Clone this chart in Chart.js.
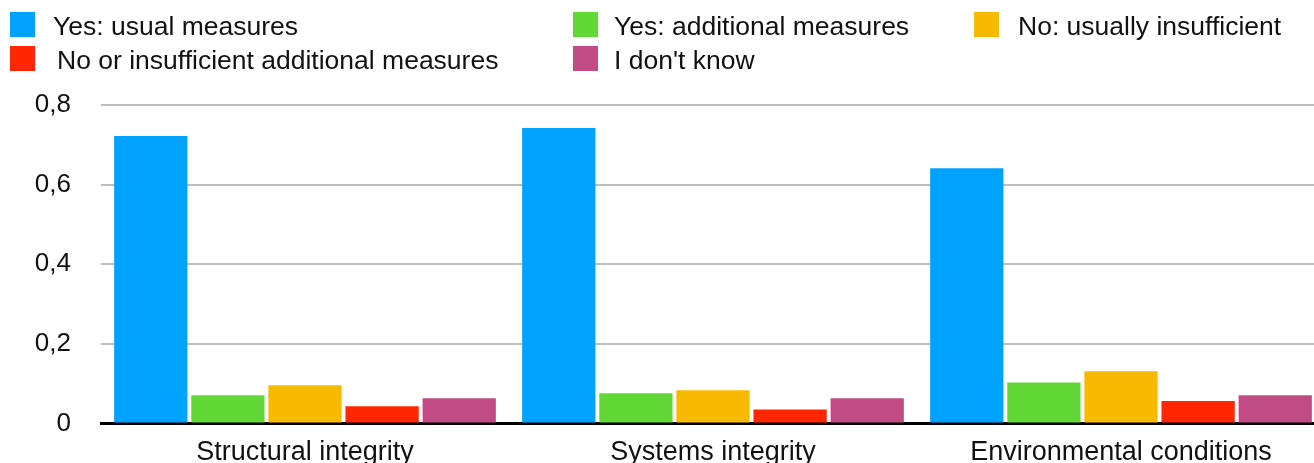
<!DOCTYPE html>
<html>
<head>
<meta charset="utf-8">
<script src="https://cdn.jsdelivr.net/npm/chart.js@4/dist/chart.umd.min.js"></script>
<style>
  html, body { margin: 0; padding: 0; background: #fff; overflow: hidden; }
  #wrap { position: relative; width: 1314px; height: 463px; overflow: hidden; }
  #chartBox { position: absolute; left: 0; top: 0; width: 1330px; height: 469px; }
  .leg { position: absolute; font-family: "Liberation Sans", Arial, sans-serif; font-size: 26.5px; color: #111; white-space: nowrap; line-height: 28px; }
  .leg span.box { position: absolute; width: 25px; height: 25px; }
  .leg span.txt { position: absolute; }
</style>
</head>
<body>
<div id="wrap">
  <div id="chartBox"><canvas id="myChart"></canvas></div>
  <div id="legend"></div>
</div>
<script>
const categories = ['Structural integrity', 'Systems integrity', 'Environmental conditions'];
const seriesNames = ['Yes: usual measures', 'Yes: additional measures', 'No: usually insufficient', 'No or insufficient additional measures', "I don't know"];
const usualMeasures = [0.722, 0.742, 0.641];
const additionalMeasures = [0.071, 0.076, 0.103];
const usuallyInsufficient = [0.096, 0.083, 0.131];
const noAdditional = [0.043, 0.035, 0.056];
const dontKnow = [0.063, 0.063, 0.071];
const yTicks = [0, 0.2, 0.4, 0.6, 0.8];

const colors = ['#00a2ff', '#61d836', '#f8ba00', '#ff2600', '#c24a85'];
const values = [usualMeasures, additionalMeasures, usuallyInsufficient, noAdditional, dontKnow];

// legend laid out as a grid like the original
const legendSpots = [[10, 12], [573, 12], [974, 12], [10, 46], [573, 46]];
const textLeft = [43, 41, 44, 47, 41];
const legend = document.getElementById('legend');
seriesNames.forEach(function(name, i){
  let item = document.createElement('div');
  item.className = 'leg';
  item.style.left = legendSpots[i][0] + 'px';
  item.style.top = legendSpots[i][1] + 'px';
  item.innerHTML = '<span class="box" style="left:0;top:0;background:' + colors[i] + '"></span>' +
    '<span class="txt" style="left:' + textLeft[i] + 'px;top:0px">' + name + '</span>';
  legend.appendChild(item);
});

const ctx = document.getElementById('myChart');

new Chart(ctx, {
  type: 'bar',
  data: {
    labels: categories,
    datasets: seriesNames.map(function(name, i){
      return {
        label: name,
        data: values[i],
        backgroundColor: colors[i],
        borderWidth: 0,
        barPercentage: 0.95,
        categoryPercentage: 0.945
      };
    })
  },
  options: {
    responsive: true,
    maintainAspectRatio: false,
    animation: false,
    layout: { padding: { top: 105, left: 0, right: 5, bottom: 0 } },
    plugins: {
      legend: { display: false },
      tooltip: { enabled: false }
    },
    scales: {
      x: {
        z: 1,
        afterFit: function(scale){ scale.height = 41; },
        grid: { display: false, drawTicks: false },
        border: { display: true, color: '#000', width: 3 },
        ticks: {
          padding: 13,
          color: '#111',
          font: { family: 'Liberation Sans', size: 27 },
          maxRotation: 0
        }
      },
      y: {
        min: 0,
        max: 0.8,
        afterBuildTicks: function(scale){
          scale.ticks = yTicks.map(function(v){ return { value: v }; });
        },
        afterFit: function(scale){ scale.width = 101; },
        grid: {
          drawTicks: false,
          color: function(c){ return c.tick && c.tick.value === 0 ? 'rgba(0,0,0,0)' : '#bdbdbd'; },
          lineWidth: 2
        },
        border: { display: false },
        ticks: {
          padding: 30,
          color: '#111',
          font: { family: 'Liberation Sans', size: 26 },
          callback: function(v){ return v === 0 ? '0' : v.toFixed(1).replace('.', ','); }
        }
      }
    }
  }
});
</script>
</body>
</html>
